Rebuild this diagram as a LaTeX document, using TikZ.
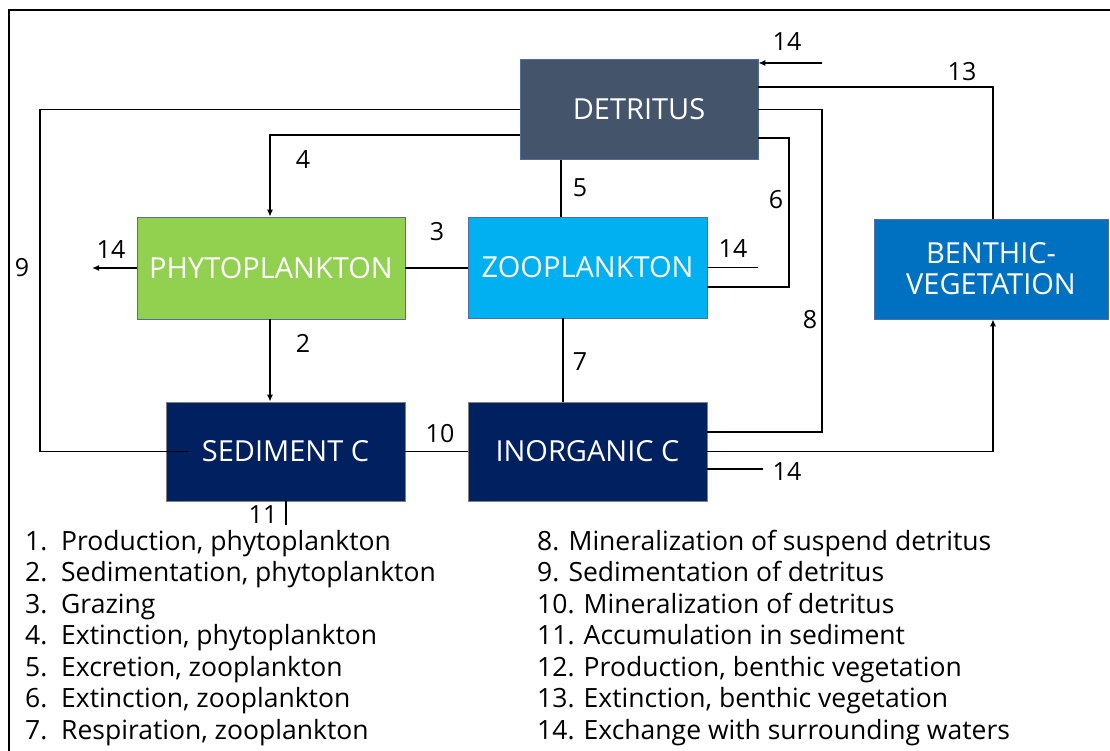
\documentclass[tikz,border=0pt]{standalone}
\usepackage{fontspec}
\setmainfont{Open Sans}
\usetikzlibrary{arrows.meta}
\definecolor{detr}{HTML}{44546A}
\definecolor{phyto}{HTML}{92D050}
\definecolor{zoo}{HTML}{00B0F0}
\definecolor{benth}{HTML}{0070C0}
\definecolor{navy}{HTML}{002060}
\definecolor{edge}{HTML}{4F6FA0}
\begin{document}
\begin{tikzpicture}[x=1pt,y=-1pt,
  box/.style={draw=edge, line width=0.6pt, text=white, inner sep=0pt,
    font=\fontsize{29}{31}\selectfont, align=center},
  conn/.style={line width=1.4pt, black},
  arr/.style={conn, -{Latex[length=7pt,width=6pt]}},
  lab/.style={font=\fontsize{25}{30}\selectfont, inner sep=0pt},
  leg/.style={font=\fontsize{26.5}{30}\selectfont, inner sep=0pt, anchor=base west}]
\useasboundingbox (0,0) rectangle (1110,751);
% frame
\coordinate (fa) at (9,751);
\coordinate (fb) at (9,10);
\coordinate (fc) at (1110,10);
\draw[line width=2pt] (fa) -- (fb) -- (fc);
% boxes
\node[box, fill=detr, minimum width=238pt, minimum height=100pt] (det) at (639,109.5) {DETRITUS};
\node[box, fill=phyto, minimum width=268pt, minimum height=102pt] (phy) at (271,268) {PHYTOPLANKTON};
\node[box, fill=zoo, minimum width=239pt, minimum height=101pt] (zoo) at (587.5,267.5) {ZOOPLANKTON};
\node[box, fill=benth, minimum width=234pt, minimum height=100pt] (ben) at (991,269) {BENTHIC-\\VEGETATION};
\node[box, fill=navy, draw=gray, minimum width=239pt, minimum height=99pt] (sed) at (285.5,451.5) {SEDIMENT C};
\node[box, fill=navy, draw=gray, minimum width=239pt, minimum height=99pt] (ino) at (587.5,451.5) {INORGANIC C};
% helper coordinates
\coordinate (c9a) at (40,109.5);
\coordinate (c9b) at (40,451.5);
\coordinate (s9) at (188,451.5);
\coordinate (c6) at (789,200);
\coordinate (c8) at (822,300);
\coordinate (e14a) at (822,63);
\coordinate (e14b) at (92,268);
\coordinate (e14c) at (758,267.5);
\coordinate (e14d) at (763,469);
\coordinate (e11) at (286,525);
% connectors
\draw[conn] (det.west) -- (c9a) -- (c9b) -- (s9);
\draw[arr] ([yshift=-25.5pt]det.west) -| ([xshift=-1pt]phy.north);
\draw[conn] ([xshift=-78pt]det.south) -- ([xshift=-26.5pt]zoo.north);
\draw[conn] ([yshift=-28.5pt]det.east) -| (c6) |- ([yshift=-19.5pt]zoo.east);
\draw[conn] (det.east) -| (c8) |- ([yshift=19.5pt]ino.east);
\draw[conn] ([yshift=22.5pt]det.east) -| ([xshift=2pt]ben.north);
\draw[arr] (e14a) -- (e14a -| det.east);
\draw[conn] (phy.east) -- (phy.east -| zoo.west);
\draw[arr] (phy.west) -- (e14b);
\draw[conn] (zoo.east) -- (e14c);
\draw[arr] ([xshift=-1pt]phy.south) -- ([xshift=-1pt]phy.south |- sed.north);
\draw[conn] ([xshift=-24.5pt]zoo.south) -- ([xshift=-24.5pt]ino.north);
\draw[conn] (sed.east) -- (ino.west);
\draw[arr] (ino.east) -| ([xshift=2pt]ben.south);
\draw[conn] ([yshift=-17.5pt]ino.east) -- (e14d);
\draw[conn] ([xshift=0.5pt]sed.south) -- (e11);
% labels
\node[lab] (l14a) at (787,42) {14};
\node[lab] (l13) at (962,72) {13};
\node[lab] (l4) at (303,160) {4};
\node[lab] (l5) at (580,188) {5};
\node[lab] (l6) at (776,200) {6};
\node[lab] (l3) at (437,232) {3};
\node[lab] (l14b) at (111,250) {14};
\node[lab] (l14c) at (733,249) {14};
\node[lab] (l9) at (22,268) {9};
\node[lab] (l8) at (810,320) {8};
\node[lab] (l2) at (303,343) {2};
\node[lab] (l7) at (580,362) {7};
\node[lab] (l10) at (440,434) {10};
\node[lab] (l14d) at (787,472) {14};
\node[lab] (l11) at (263,515) {11};
% legend
\foreach \n/\t [count=\i from 0] in {1./{Production, phytoplankton},2./{Sedimentation,\ phytoplankton},3./Grazing,4./{Extinction, phytoplankton},5./{Excretion, zooplankton},6./{Extinction, zooplankton},7./{Respiration, zooplankton}}{
  \node[leg] (ln\i) at (25,550+31.5*\i) {\n};
  \node[leg] (lt\i) at (61,550+31.5*\i) {\t};
}
\foreach \t [count=\i from 0] in {8. Mineralization\ of suspend detritus,9. Sedimentation\ of detritus,10. Mineralization of detritus,11. Accumulation in sediment,{12. Production, benthic vegetation},{13. Extinction, benthic vegetation},14. Exchange with surrounding waters}{
  \node[leg] (r\i) at (537,550+31.5*\i) {\t};
}
\end{tikzpicture}
\end{document}
